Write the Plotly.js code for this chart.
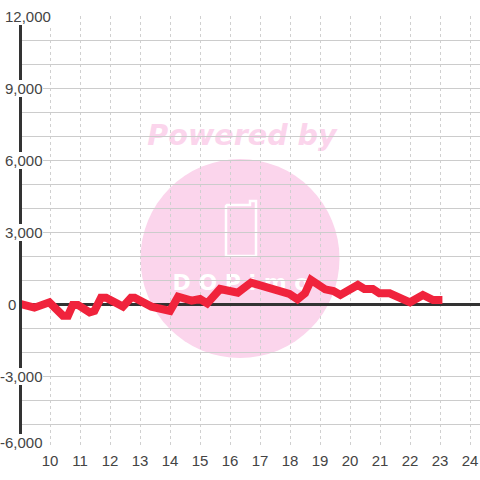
<!DOCTYPE html>
<html>
<head>
<meta charset="utf-8">
<script src="https://cdn.plot.ly/plotly-3.0.1.min.js"></script>
<style>html,body{margin:0;padding:0;background:#fff}</style>
</head>
<body>
<div id="chart" style="width:480px;height:480px"></div>
<script>
var hours = [8.93,9.32,9.48,9.98,10.2,10.43,10.6,10.76,10.93,11.32,11.48,11.7,11.87,12.3,12.43,12.7,12.82,13.38,13.55,13.83,14,14.27,14.72,15,15.24,15.67,15.95,16.26,16.7,17.42,17.98,18.25,18.5,18.7,19.17,19.45,19.68,20.26,20.48,20.76,20.98,21.32,21.77,22,22.43,22.77,23.08];
var values = [28,-70,-153,69,-250,-485,-485,-40,-40,-350,-290,260,260,-40,-110,260,260,-110,-153,-290,-290,305,140,210,28,625,583,472,889,583,417,194,444,1000,611,542,375,792,625,625,444,444,236,69,375,167,167];
var yTickValues = [12000,9000,6000,3000,0,-3000,-6000];
var yTickLabels = ['12,000','9,000','6,000','3,000','0','-3,000','-6,000'];
var yLabelRight = [51,43,43,43,16,43,43];
var yLabelShift = [0,0,0,0,0,0,6];
var xTicks = [10,11,12,13,14,15,16,17,18,19,20,21,22,23,24];

var L=22,T=16,W=458,H=432;
function px(x){return (x-L)/W;}
function py(y){return 1-(y-T)/H;}
var tickFont={family:'"Liberation Sans",Arial,sans-serif',size:15,color:'#444'};
var annotations=yTickLabels.map(function(t,i){
  return {text:t,xref:'paper',yref:'y',x:px(yLabelRight[i]),y:yTickValues[i],yshift:yLabelShift[i],xanchor:'right',yanchor:'middle',showarrow:false,font:tickFont,bgcolor:'#fff',borderpad:0,borderwidth:0};
});
var phone='M '+px(227)+' '+py(205)+' L '+px(250)+' '+py(205)+' L '+px(250)+' '+py(201)+' L '+px(256)+' '+py(201)+' L '+px(256)+' '+py(256)+' L '+px(226)+' '+py(256)+' L '+px(226)+' '+py(206)+' Z';
var shapes=[
 {type:'circle',layer:'below',xref:'paper',yref:'paper',x0:px(140.5),x1:px(339.5),y0:py(358),y1:py(159),fillcolor:'#fbd5ec',line:{width:0}},
 {type:'path',layer:'below',xref:'paper',yref:'paper',path:phone,fillcolor:'rgba(0,0,0,0)',line:{color:'#fff',width:2.5}},
 {type:'rect',layer:'below',xref:'paper',yref:'paper',x0:px(170),x1:px(312),y0:py(294),y1:py(266),fillcolor:'rgba(0,0,0,0)',line:{width:0},
  label:{text:'<b>D O P i m o</b>',textposition:'middle center',font:{family:'"DejaVu Sans",sans-serif',size:22,color:'#fff'}}},
 {type:'rect',layer:'below',xref:'paper',yref:'paper',x0:px(140),x1:px(344),y0:py(150),y1:py(116),fillcolor:'rgba(0,0,0,0)',line:{width:0},
  label:{text:'<b><i>Powered by</i></b>',textposition:'middle center',font:{family:'"DejaVu Sans",sans-serif',size:28.6,color:'#fbd5ec'}}}
];
var data=[{type:'scatter',mode:'lines',x:hours,y:values,cliponaxis:false,line:{color:'#f0233c',width:8,shape:'linear'},hoverinfo:'skip'}];
var layout={
 width:480,height:480,margin:{l:L,r:0,t:T,b:32,pad:0},
 paper_bgcolor:'#fff',plot_bgcolor:'rgba(0,0,0,0)',showlegend:false,
 xaxis:{range:[9.0667,24.333],tickmode:'array',tickvals:xTicks,ticktext:xTicks.map(String),showgrid:true,gridcolor:'#d0d0d0',griddash:'3px,3px',gridwidth:1,zeroline:false,showline:false,ticks:'',tickfont:tickFont,ticklabelstandoff:2},
 yaxis:{range:[-6000,12000],dtick:1000,tick0:0,showticklabels:false,showgrid:true,gridcolor:'#cccccc',gridwidth:1,zeroline:true,zerolinecolor:'#333',zerolinewidth:3,showline:true,linecolor:'#333',linewidth:3,ticks:''},
 annotations:annotations,shapes:shapes
};
Plotly.newPlot('chart',data,layout,{displayModeBar:false,staticPlot:true});
</script>
</body>
</html>
